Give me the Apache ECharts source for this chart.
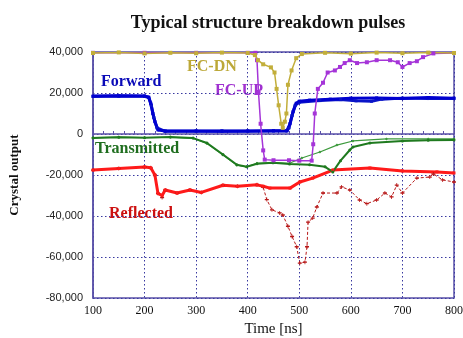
<!DOCTYPE html>
<html><head><meta charset="utf-8">
<script src="https://cdn.jsdelivr.net/npm/echarts@6/dist/echarts.min.js"></script>
<style>html,body{margin:0;padding:0;background:#fff}#c{width:463px;height:338px}</style>
</head><body><div id="c"></div>
<script>
var xTicks = [100,200,300,400,500,600,700,800];
var yTicks = [-80000,-60000,-40000,-20000,0,20000,40000];

var forwardA = [[100,18500],[150,18600],[200,18500],[208,18000],[212,15000],[216,10000],[220,6000],[226,2000],[240,1500],[300,1500],[350,1400],[400,1500],[450,1600],[476,1600],[482,5000],[488,11000],[494,15000],[500,16000],[520,16500],[560,17000],[600,17500],[650,17600],[700,17300],[750,17800],[800,17500]];
var forwardB = [[100,18300],[150,18500],[200,18400],[208,17800],[213,14000],[218,8000],[224,3000],[240,1300],[300,1400],[350,1500],[400,1400],[450,1500],[476,1500],[480,3000],[486,9000],[492,14000],[500,15500],[540,16300],[580,16800],[610,16200],[640,16000],[660,17000],[700,17500],[750,17300],[800,17300]];
var fcDn = [[100,39500],[150,39800],[200,39300],[250,39600],[300,39400],[350,39700],[400,39500],[414,38500],[420,36000],[430,34000],[445,32500],[452,30000],[456,22000],[460,14000],[465,5000],[468,3000],[472,6000],[475,10000],[478,24000],[485,31000],[494,37000],[505,39000],[550,39600],[600,39200],[650,39700],[700,39400],[750,39700],[800,39500]];
var fcUp = [[100,39600],[200,39600],[300,39600],[400,39600],[415,39600],[418,36000],[421,20000],[425,5000],[430,-8000],[433,-12500],[450,-12800],[480,-12800],[500,-13000],[524,-13000],[527,-5000],[530,10000],[536,22000],[546,25000],[555,30000],[569,31000],[579,32700],[588,34600],[598,36000],[612,34600],[631,35000],[650,36000],[676,36000],[691,35000],[700,32700],[714,34600],[728,35500],[740,37500],[760,39300],[800,39500]];
var transA = [[100,-2000],[150,-1600],[200,-1800],[250,-1500],[294,-2000],[321,-4400],[352,-10000],[379,-15000],[398,-16000],[418,-14500],[449,-14000],[481,-14600],[520,-15000],[550,-16000],[565,-18500],[580,-13000],[598,-7800],[604,-6300],[637,-4400],[700,-3400],[750,-3000],[800,-2900]];
var transB = [[100,-1800],[150,-1500],[200,-1700],[250,-1600],[294,-2100],[321,-4600],[352,-10200],[379,-15200],[398,-16000],[418,-14300],[449,-14000],[481,-14300],[505,-11700],[540,-8800],[573,-5400],[604,-3400],[669,-2400],[750,-2400],[800,-2400]];
var reflA = [[100,-17600],[150,-16800],[200,-16100],[212,-16500],[220,-20000],[226,-29000],[234,-30000],[240,-27300],[263,-28800],[288,-27300],[310,-28500],[352,-25000],[380,-25500],[418,-24800],[430,-25500],[443,-26400],[482,-26400],[501,-23400],[526,-21500],[565,-17600],[637,-16600],[700,-18000],[767,-18500],[800,-19000]];
var reflB = [[100,-17600],[150,-16800],[200,-16100],[212,-16500],[220,-20000],[226,-29000],[234,-31000],[240,-27300],[263,-28800],[288,-27300],[310,-28500],[352,-25000],[380,-25500],[418,-24800],[430,-26000],[437,-32000],[447,-37000],[462,-38500],[468,-39500],[478,-45000],[486,-50000],[495,-55000],[501,-63000],[511,-62500],[515,-55000],[517,-43000],[526,-41000],[534,-35600],[546,-28800],[573,-28800],[582,-25800],[598,-27300],[617,-32200],[631,-34000],[650,-32200],[666,-28800],[679,-30700],[689,-24900],[700,-28800],[728,-21500],[753,-21000],[760,-19500],[778,-22400],[800,-23400]];

var labels = ['Forward','FC-DN','FC-UP','Transmitted','Reflected'];

var serif = '"Liberation Serif","DejaVu Serif",serif';
var sans = '"Liberation Sans",Arial,sans-serif';
var frame = '#5a50a8';
var grid = '#3838a0';

function line(data, color, width, symbol, size, dashed){
  return {type:'line', data:data, showSymbol:true, symbol:symbol, symbolSize:size,
    lineStyle:{color:color, width:width, type: dashed ? [3,2] : 'solid'},
    itemStyle:{color:color}, animation:false, silent:true};
}

var chart = echarts.init(document.getElementById('c'));
chart.setOption({
  backgroundColor:'#fff',
  title:{text:'Typical structure breakdown pulses', left:263, top:9, textAlign:'center',
    textStyle:{fontFamily:serif, fontSize:18, fontWeight:'bold', color:'#111'}},
  grid:{left:93, right:9, top:52, bottom:40, show:true, borderColor:frame, borderWidth:1.5,
    containLabel:false, outerBoundsMode:'none'},
  xAxis:{type:'value', min:100, max:800, interval:100,
    name:'Time [ns]', nameLocation:'middle', nameGap:24,
    nameTextStyle:{fontFamily:serif, fontSize:15, color:'#111'},
    axisLine:{lineStyle:{color:frame, width:1.5}},
    axisTick:{inside:true, length:4, lineStyle:{color:frame}},
    minorTick:{show:true, splitNumber:5, length:3, lineStyle:{color:frame}},
    axisLabel:{fontFamily:serif, fontSize:12, color:'#111', margin:7},
    splitLine:{show:true, lineStyle:{color:grid, type:[1.5,2.5], width:1}}},
  yAxis:{type:'value', min:-80000, max:40000, interval:20000,
    name:'Crystal output', nameLocation:'middle', nameGap:72,
    nameTextStyle:{fontFamily:serif, fontSize:13, fontWeight:'bold', color:'#111'},
    axisLine:{lineStyle:{color:frame, width:1.5}},
    axisTick:{show:false},
    axisLabel:{fontFamily:sans, fontSize:11, color:'#222', margin:10},
    splitLine:{show:true, lineStyle:{color:grid, type:[1.5,2.5], width:1}}},
  series:[
    line(reflB, '#b81818', 1, 'path://M0,1H2V0H3V1H5V2H3V3H2V2H0Z', 4, true),
    line(reflA, '#ff1a1a', 3, 'rect', 3),
    line(transB, '#3c9a3c', 1.2, 'diamond', 3),
    line(transA, '#1f7a1f', 2, 'circle', 3),
    line(forwardB, '#0a14c8', 3, 'rect', 3),
    line(forwardA, '#0000d0', 3, 'rect', 3),
    line(fcUp, '#a534d8', 1.5, 'rect', 4),
    line(fcDn, '#c2ae3a', 1.5, 'rect', 4)
  ],
  graphic:[
    {type:'text', left:101, top:74, style:{text:labels[0], font:'bold 16px '+serif, fill:'#0a0ab8'}},
    {type:'text', left:187, top:59, style:{text:labels[1], font:'bold 16px '+serif, fill:'#bca838'}},
    {type:'text', left:215, top:83, style:{text:labels[2], font:'bold 16px '+serif, fill:'#a030d0'}},
    {type:'text', left:95, top:141, style:{text:labels[3], font:'bold 16px '+serif, fill:'#1f6e1f'}},
    {type:'text', left:109, top:206, style:{text:labels[4], font:'bold 16px '+serif, fill:'#cc1010'}}
  ]
});
</script></body></html>
